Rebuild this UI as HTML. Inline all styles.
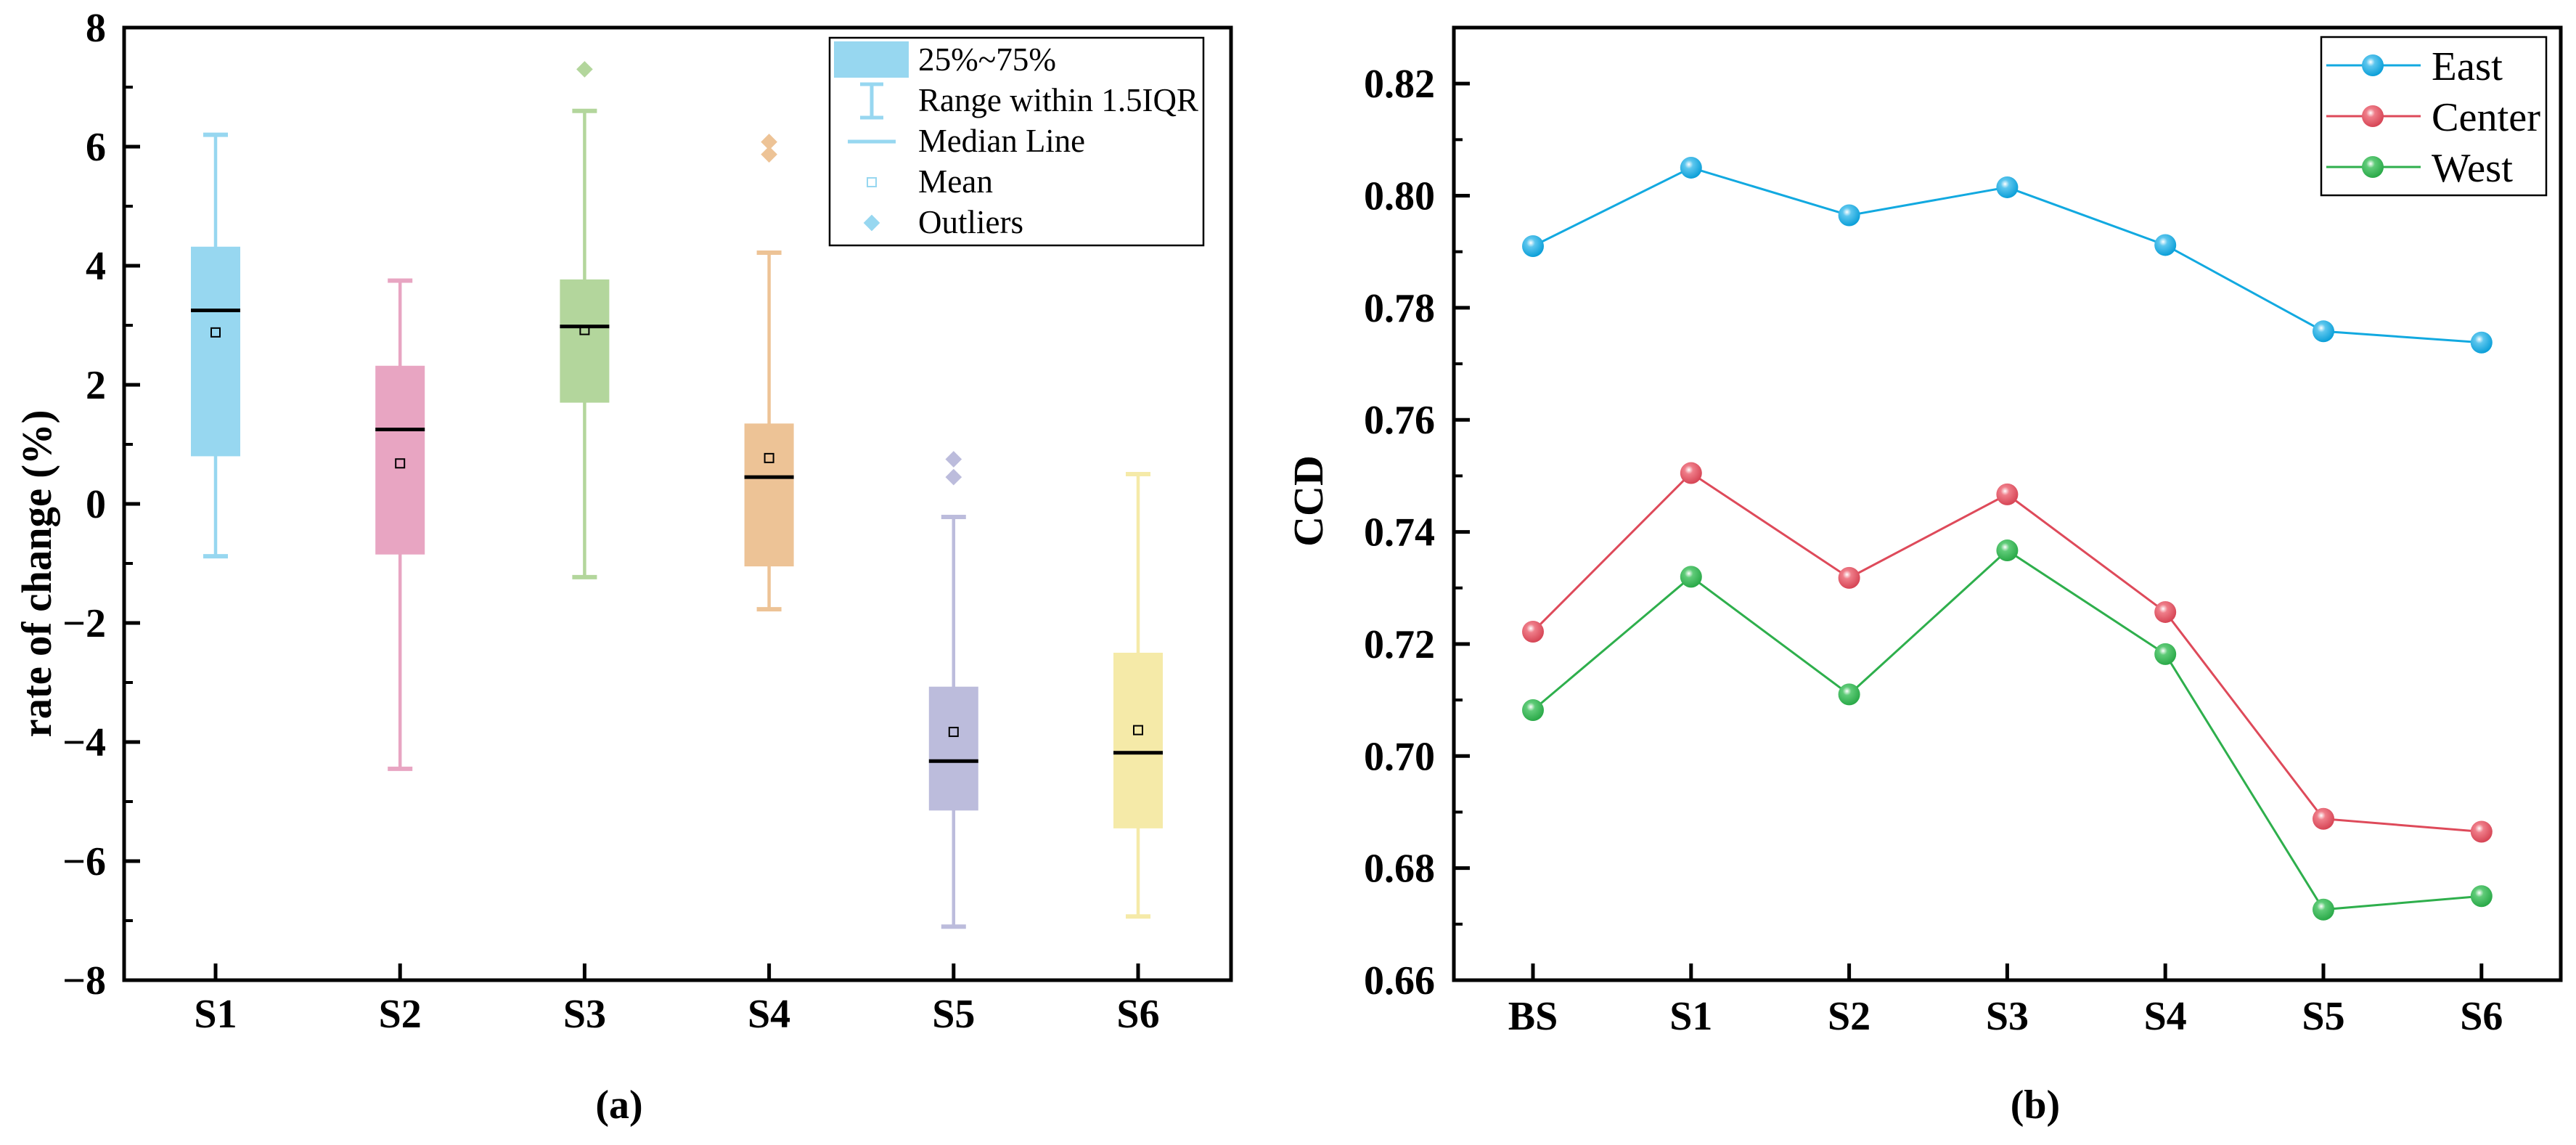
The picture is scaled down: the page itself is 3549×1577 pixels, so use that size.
<!DOCTYPE html>
<html><head><meta charset="utf-8"><style>
html,body{margin:0;padding:0;background:#fff}
svg{display:block}
text{font-family:"Liberation Serif",serif}
</style></head><body>
<svg id="fig" width="3549" height="1577" viewBox="0 0 3549 1577" xmlns="http://www.w3.org/2000/svg">
<defs>
<radialGradient id="gE" cx="0.4" cy="0.35" r="0.65"><stop offset="0" stop-color="#fff"/><stop offset="0.3" stop-color="#5cc6ee"/><stop offset="1" stop-color="#0b9fd8"/></radialGradient>
<radialGradient id="gC" cx="0.4" cy="0.35" r="0.65"><stop offset="0" stop-color="#fff"/><stop offset="0.3" stop-color="#ef7d89"/><stop offset="1" stop-color="#d64555"/></radialGradient>
<radialGradient id="gW" cx="0.4" cy="0.35" r="0.65"><stop offset="0" stop-color="#fff"/><stop offset="0.3" stop-color="#5fcb78"/><stop offset="1" stop-color="#2aa948"/></radialGradient>
</defs>
<g id="left"></g>
<g id="right"></g>
</svg>
<script>
const NS="http://www.w3.org/2000/svg";
// ---- boxplot data ----
const boxCats=["S1","S2","S3","S4","S5","S6"];
const q1=[0.8,-0.85,1.7,-1.05,-5.15,-5.45];
const q3=[4.32,2.32,3.77,1.35,-3.07,-2.5];
const medians=[3.25,1.25,2.98,0.45,-4.32,-4.18];
const means=[2.88,0.68,2.92,0.77,-3.83,-3.8];
const whiskLow=[-0.88,-4.45,-1.23,-1.77,-7.1,-6.93];
const whiskHigh=[6.2,3.75,6.6,4.22,-0.22,0.5];
const outliers=[[],[],[7.3],[6.08,5.87],[0.75,0.45],[]];
const boxColors=["#97d7f0","#e8a5c2","#b3d69c","#edc396","#bcbcdc","#f5eaa8"];
const leftTicks=[-8,-6,-4,-2,0,2,4,6,8];
// ---- line data ----
const lineCats=["BS","S1","S2","S3","S4","S5","S6"];
const east=[0.791,0.805,0.7965,0.8015,0.7912,0.7758,0.7738];
const center=[0.7222,0.7505,0.7318,0.7467,0.7257,0.6888,0.6865];
const west=[0.7082,0.7320,0.7110,0.7367,0.7182,0.6726,0.6750];
const rightTicks=[0.66,0.68,0.70,0.72,0.74,0.76,0.78,0.80,0.82];
const seriesNames=["East","Center","West"];

function el(parent,tag,attrs,txt){const e=document.createElementNS(NS,tag);for(const k in attrs)e.setAttribute(k,attrs[k]);if(txt!=null)e.textContent=txt;parent.appendChild(e);return e;}

// ===== LEFT =====
const L=document.getElementById('left');
const lx0=171,lx1=1696,ly0=38,ly1=1350;
const ly=v=>ly0+(8-v)/16*(ly1-ly0);
const lx=i=>297+i*254.2;
let f=el(L,'rect',{x:lx0,y:ly0,width:lx1-lx0,height:ly1-ly0,fill:'none',stroke:'#000','stroke-width':5});

leftTicks.forEach(v=>{
  el(L,'line',{x1:lx0,x2:lx0+22,y1:ly(v),y2:ly(v),stroke:'#000','stroke-width':5});
  const t=el(L,'text',{x:146,y:ly(v)+19,'text-anchor':'end','font-size':56,'font-weight':'bold'},v<0?'\u2212'+(-v):String(v));
  
});
for(let v=-7;v<8;v+=2){el(L,'line',{x1:lx0,x2:lx0+12,y1:ly(v),y2:ly(v),stroke:'#000','stroke-width':4});}
boxCats.forEach((c,i)=>{
  const x=lx(i),col=boxColors[i];
  el(L,'line',{x1:x,x2:x,y1:ly1,y2:ly1-23,stroke:'#000','stroke-width':5});
  const t=el(L,'text',{x:x,y:1415,'text-anchor':'middle','font-size':56,'font-weight':'bold'},c);
  
  const g=el(L,'g',{});
  
  el(g,'line',{x1:x,x2:x,y1:ly(whiskHigh[i]),y2:ly(whiskLow[i]),stroke:col,'stroke-width':4.5});
  el(g,'line',{x1:x-17,x2:x+17,y1:ly(whiskHigh[i]),y2:ly(whiskHigh[i]),stroke:col,'stroke-width':6});
  el(g,'line',{x1:x-17,x2:x+17,y1:ly(whiskLow[i]),y2:ly(whiskLow[i]),stroke:col,'stroke-width':6});
  el(g,'rect',{x:x-34,y:ly(q3[i]),width:68,height:ly(q1[i])-ly(q3[i]),fill:col});
  el(g,'line',{x1:x-34,x2:x+34,y1:ly(medians[i]),y2:ly(medians[i]),stroke:'#000','stroke-width':5});
  el(g,'rect',{x:x-6,y:ly(means[i])-6,width:12,height:12,fill:'none',stroke:'#000','stroke-width':2});
  outliers[i].forEach(o=>{el(g,'rect',{x:x-8,y:ly(o)-8,width:16,height:16,fill:col,transform:`rotate(45 ${x} ${ly(o)})`});});
});
let yl=el(L,'text',{x:0,y:0,'text-anchor':'middle','font-size':58,'font-weight':'bold',textLength:451,lengthAdjust:'spacingAndGlyphs',transform:'translate(70,790) rotate(-90)'},'rate of change (%)');

let ca=el(L,'text',{x:853,y:1540,'text-anchor':'middle','font-size':56,'font-weight':'bold'},'(a)');

// legend
const lg=el(L,'g',{});
el(lg,'rect',{x:1143,y:52,width:515,height:286,fill:'#fff',stroke:'#000','stroke-width':2.5});
el(lg,'rect',{x:1149,y:57,width:103,height:50,fill:'#97d7f0'});
el(lg,'line',{x1:1201,x2:1201,y1:116,y2:162,stroke:'#97d7f0','stroke-width':5});
el(lg,'line',{x1:1185,x2:1217,y1:116,y2:116,stroke:'#97d7f0','stroke-width':5});
el(lg,'line',{x1:1185,x2:1217,y1:162,y2:162,stroke:'#97d7f0','stroke-width':5});
el(lg,'line',{x1:1168,x2:1234,y1:195,y2:195,stroke:'#97d7f0','stroke-width':5});
el(lg,'rect',{x:1195,y:245,width:12,height:12,fill:'none',stroke:'#97d7f0','stroke-width':2});
el(lg,'rect',{x:1193,y:299,width:16,height:16,fill:'#97d7f0',transform:'rotate(45 1201 307)'});
const legTexts=["25%~75%","Range within 1.5IQR","Median Line","Mean","Outliers"];
const legLens=[190,386,230,103,145];
legTexts.forEach((s,k)=>{
  const t=el(lg,'text',{x:1265,y:97+k*56,'font-size':46,textLength:legLens[k],lengthAdjust:'spacingAndGlyphs'},s);
  
});

// ===== RIGHT =====
const R=document.getElementById('right');
const rx0=2003,rx1=3528,ry0=38,ry1=1350;
const ry=v=>ry1-(v-0.66)/0.17*(ry1-ry0);
const rx=i=>2112+i*217.8;
f=el(R,'rect',{x:rx0,y:ry0,width:rx1-rx0,height:ry1-ry0,fill:'none',stroke:'#000','stroke-width':5});

rightTicks.forEach(v=>{
  el(R,'line',{x1:rx0,x2:rx0+22,y1:ry(v),y2:ry(v),stroke:'#000','stroke-width':5});
  const t=el(R,'text',{x:1977,y:ry(v)+19,'text-anchor':'end','font-size':56,'font-weight':'bold'},v.toFixed(2));
  
});
for(let v=0.67;v<0.83;v+=0.02){el(R,'line',{x1:rx0,x2:rx0+12,y1:ry(v),y2:ry(v),stroke:'#000','stroke-width':4});}
lineCats.forEach((c,i)=>{
  el(R,'line',{x1:rx(i),x2:rx(i),y1:ry1,y2:ry1-23,stroke:'#000','stroke-width':5});
  const t=el(R,'text',{x:rx(i),y:1418,'text-anchor':'middle','font-size':56,'font-weight':'bold'},c);
  
});
const series=[east,center,west],cols=["#12a9e0","#de4a5a","#2eaf4c"],grads=["gE","gC","gW"];
series.forEach((s,k)=>{
  const g=el(R,'g',{});
  
  el(g,'polyline',{points:s.map((v,i)=>rx(i)+','+ry(v)).join(' '),fill:'none',stroke:cols[k],'stroke-width':3});
  s.forEach((v,i)=>{
    const p=el(g,'circle',{cx:rx(i),cy:ry(v),r:15,fill:`url(#${grads[k]})`});
    
  });
});
yl=el(R,'text',{x:0,y:0,'text-anchor':'middle','font-size':58,'font-weight':'bold',transform:'translate(1822,690) rotate(-90)'},'CCD');

ca=el(R,'text',{x:2804,y:1540,'text-anchor':'middle','font-size':56,'font-weight':'bold'},'(b)');

const lg2=el(R,'g',{});
el(lg2,'rect',{x:3198,y:51,width:310,height:218,fill:'#fff',stroke:'#000','stroke-width':2.5});
const leg2Lens=[98,150,112];
seriesNames.forEach((s,k)=>{
  const y=90+k*70;
  el(lg2,'line',{x1:3205,x2:3335,y1:y,y2:y,stroke:cols[k],'stroke-width':3});
  el(lg2,'circle',{cx:3269,cy:y,r:15,fill:`url(#${grads[k]})`});
  const t=el(lg2,'text',{x:3350,y:y+20,'font-size':56,textLength:leg2Lens[k],lengthAdjust:'spacingAndGlyphs'},s);
  
});
</script>
</body></html>
